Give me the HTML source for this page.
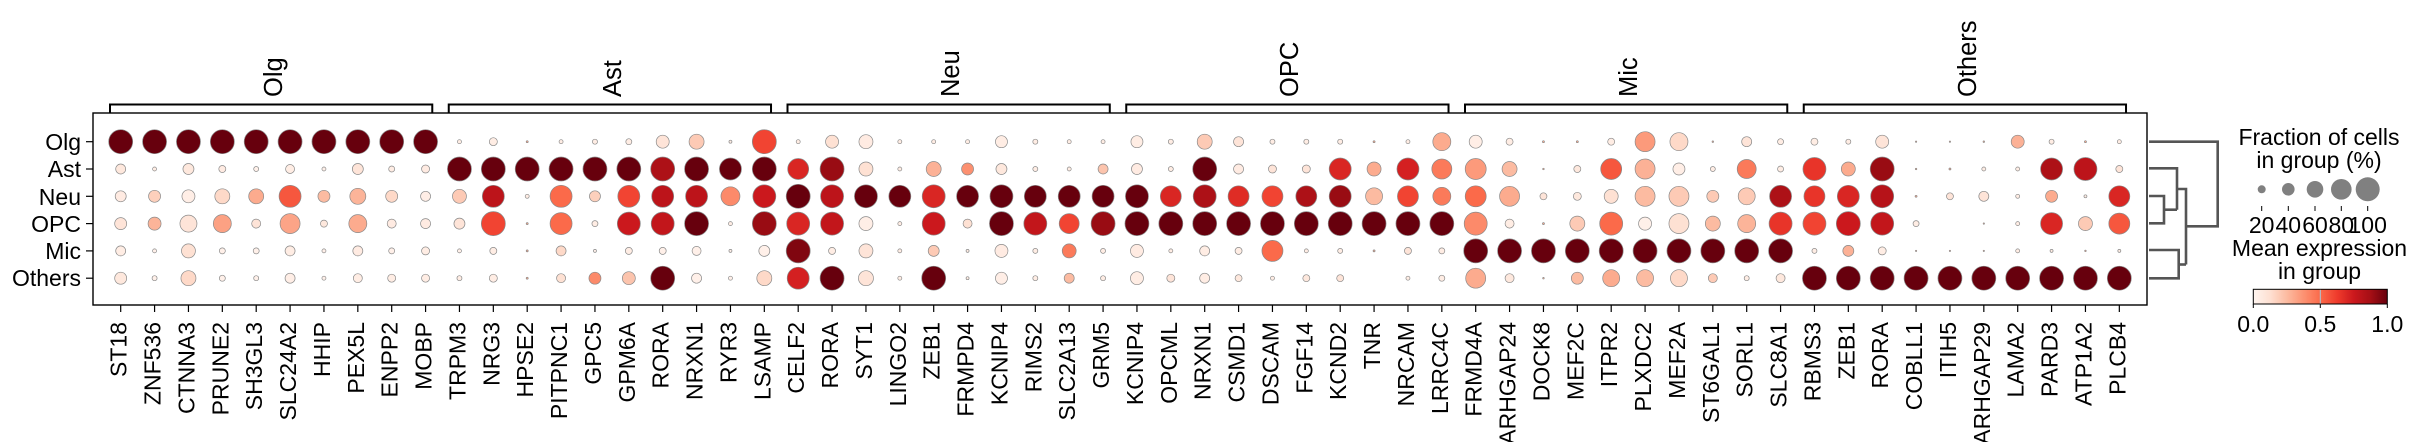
<!DOCTYPE html>
<html><head><meta charset="utf-8">
<style>
html,body{margin:0;padding:0;background:#fff;}
svg{display:block;}
text{font-family:"Liberation Sans","DejaVu Sans",sans-serif;font-size:23px;fill:#000;}
.grp text{font-size:25.5px;}
</style></head>
<body>
<svg id="s" width="2419" height="442" viewBox="0 0 2419 442" xmlns="http://www.w3.org/2000/svg">
<defs>
<linearGradient id="reds" x1="0" x2="1" y1="0" y2="0">
<stop offset="0" stop-color="#fff5f0"/><stop offset="0.125" stop-color="#fee0d2"/><stop offset="0.25" stop-color="#fcbba1"/><stop offset="0.375" stop-color="#fc9272"/><stop offset="0.5" stop-color="#fb6a4a"/><stop offset="0.625" stop-color="#ef3b2c"/><stop offset="0.75" stop-color="#cb181d"/><stop offset="0.875" stop-color="#a50f15"/><stop offset="1" stop-color="#67000d"/>
</linearGradient>
</defs>
<rect x="93" y="113" width="2054" height="192" fill="none" stroke="#000" stroke-width="1.4"/>
<g id="dots"></g>
<g id="ticks" stroke="#000" stroke-width="1.2"></g>
<g text-anchor="end">
<text x="81" y="150">Olg</text>
<text x="81" y="177">Ast</text>
<text x="81" y="205">Neu</text>
<text x="81" y="232">OPC</text>
<text x="81" y="259">Mic</text>
<text x="81" y="286">Others</text>
</g>
<g class="grp">
<text transform="translate(282,97) rotate(-90)">Olg</text>
<text transform="translate(621,97) rotate(-90)">Ast</text>
<text transform="translate(959,97) rotate(-90)">Neu</text>
<text transform="translate(1298,97) rotate(-90)">OPC</text>
<text transform="translate(1637,97) rotate(-90)">Mic</text>
<text transform="translate(1976,97) rotate(-90)">Others</text>
</g>
<g id="brackets" fill="none" stroke="#000" stroke-width="2"></g>
<g id="genes" text-anchor="end">
<text transform="translate(126.7,322) rotate(-90)">ST18</text>
<text transform="translate(160.6,322) rotate(-90)">ZNF536</text>
<text transform="translate(194.5,322) rotate(-90)">CTNNA3</text>
<text transform="translate(228.3,322) rotate(-90)">PRUNE2</text>
<text transform="translate(262.2,322) rotate(-90)">SH3GL3</text>
<text transform="translate(296.1,322) rotate(-90)">SLC24A2</text>
<text transform="translate(330.0,322) rotate(-90)">HHIP</text>
<text transform="translate(363.8,322) rotate(-90)">PEX5L</text>
<text transform="translate(397.7,322) rotate(-90)">ENPP2</text>
<text transform="translate(431.6,322) rotate(-90)">MOBP</text>
<text transform="translate(465.5,322) rotate(-90)">TRPM3</text>
<text transform="translate(499.3,322) rotate(-90)">NRG3</text>
<text transform="translate(533.2,322) rotate(-90)">HPSE2</text>
<text transform="translate(567.1,322) rotate(-90)">PITPNC1</text>
<text transform="translate(601.0,322) rotate(-90)">GPC5</text>
<text transform="translate(634.8,322) rotate(-90)">GPM6A</text>
<text transform="translate(668.7,322) rotate(-90)">RORA</text>
<text transform="translate(702.6,322) rotate(-90)">NRXN1</text>
<text transform="translate(736.5,322) rotate(-90)">RYR3</text>
<text transform="translate(770.3,322) rotate(-90)">LSAMP</text>
<text transform="translate(804.2,322) rotate(-90)">CELF2</text>
<text transform="translate(838.1,322) rotate(-90)">RORA</text>
<text transform="translate(872.0,322) rotate(-90)">SYT1</text>
<text transform="translate(905.8,322) rotate(-90)">LINGO2</text>
<text transform="translate(939.7,322) rotate(-90)">ZEB1</text>
<text transform="translate(973.6,322) rotate(-90)">FRMPD4</text>
<text transform="translate(1007.5,322) rotate(-90)">KCNIP4</text>
<text transform="translate(1041.3,322) rotate(-90)">RIMS2</text>
<text transform="translate(1075.2,322) rotate(-90)">SLC2A13</text>
<text transform="translate(1109.1,322) rotate(-90)">GRM5</text>
<text transform="translate(1143.0,322) rotate(-90)">KCNIP4</text>
<text transform="translate(1176.8,322) rotate(-90)">OPCML</text>
<text transform="translate(1210.7,322) rotate(-90)">NRXN1</text>
<text transform="translate(1244.6,322) rotate(-90)">CSMD1</text>
<text transform="translate(1278.5,322) rotate(-90)">DSCAM</text>
<text transform="translate(1312.3,322) rotate(-90)">FGF14</text>
<text transform="translate(1346.2,322) rotate(-90)">KCND2</text>
<text transform="translate(1380.1,322) rotate(-90)">TNR</text>
<text transform="translate(1414.0,322) rotate(-90)">NRCAM</text>
<text transform="translate(1447.8,322) rotate(-90)">LRRC4C</text>
<text transform="translate(1481.7,322) rotate(-90)">FRMD4A</text>
<text transform="translate(1515.6,322) rotate(-90)">ARHGAP24</text>
<text transform="translate(1549.5,322) rotate(-90)">DOCK8</text>
<text transform="translate(1583.3,322) rotate(-90)">MEF2C</text>
<text transform="translate(1617.2,322) rotate(-90)">ITPR2</text>
<text transform="translate(1651.1,322) rotate(-90)">PLXDC2</text>
<text transform="translate(1685.0,322) rotate(-90)">MEF2A</text>
<text transform="translate(1718.8,322) rotate(-90)">ST6GAL1</text>
<text transform="translate(1752.7,322) rotate(-90)">SORL1</text>
<text transform="translate(1786.6,322) rotate(-90)">SLC8A1</text>
<text transform="translate(1820.5,322) rotate(-90)">RBMS3</text>
<text transform="translate(1854.3,322) rotate(-90)">ZEB1</text>
<text transform="translate(1888.2,322) rotate(-90)">RORA</text>
<text transform="translate(1922.1,322) rotate(-90)">COBLL1</text>
<text transform="translate(1956.0,322) rotate(-90)">ITIH5</text>
<text transform="translate(1989.8,322) rotate(-90)">ARHGAP29</text>
<text transform="translate(2023.7,322) rotate(-90)">LAMA2</text>
<text transform="translate(2057.6,322) rotate(-90)">PARD3</text>
<text transform="translate(2091.5,322) rotate(-90)">ATP1A2</text>
<text transform="translate(2125.3,322) rotate(-90)">PLCB4</text>
</g>
<g fill="none" stroke="#555" stroke-width="2.6">
<path d="M2149 141.7H2217.7V226.3H2186"/>
<path d="M2149 168.3H2177V209.7"/>
<path d="M2149 196H2164V223.3H2149"/>
<path d="M2164 209.7H2177"/>
<path d="M2177 189H2186V264.5"/>
<path d="M2149 250H2178.7V278.3H2149"/>
<path d="M2178.7 264.5H2186"/>
</g>
<g text-anchor="middle">
<text x="2319" y="145">Fraction of cells</text>
<text x="2319" y="168">in group (%)</text>
<g fill="#808080">
<circle cx="2261.7" cy="189.3" r="4"/>
<circle cx="2288.3" cy="189.3" r="6.3"/>
<circle cx="2315" cy="189.3" r="8.3"/>
<circle cx="2341.3" cy="189.3" r="10.3"/>
<circle cx="2367.7" cy="189.3" r="12"/>
</g>
<g stroke="#000" stroke-width="1">
<path d="M2261.7 206V211M2288.3 206V211M2315 206V211M2341.3 206V211M2367.7 206V211"/>
</g>
<text x="2261.7" y="233">20</text>
<text x="2288.3" y="233">40</text>
<text x="2315" y="233">60</text>
<text x="2341.3" y="233">80</text>
<text x="2367.7" y="233">100</text>
<text x="2319.5" y="256">Mean expression</text>
<text x="2319.5" y="279">in group</text>
<rect x="2253.3" y="289.3" width="134" height="14.7" fill="url(#reds)" stroke="#000" stroke-width="1"/>
<line x1="2320.3" y1="289.8" x2="2320.3" y2="303.6" stroke="#a8c8d8" stroke-width="1"/>
<path d="M2253.3 304V308M2320.3 304V308M2387.3 304V308" stroke="#000" stroke-width="1"/>
<text x="2253.3" y="332">0.0</text>
<text x="2320.3" y="332">0.5</text>
<text x="2387.3" y="332">1.0</text>
</g>
</svg>
<script>
(function(){
var R=[
[12,5,5.5,6,5,6],[12,2,6,6.5,2,2.5],[12,5.5,6.5,8.5,7,7.5],[12,3.5,7.5,9,3,3],[12,2.5,7.5,4.5,3,2.5],[12,4.5,11,10,5,5],[12,2,6,3.5,2,2],[12,5.5,8,9,5,4.5],[12,3,6,4.5,3,4],[12,4,5,5,4,4],
[2,12,7,5.5,2,2.5],[4,12,11,12,3.5,4],[1,12,2,1,1,1],[2,12,11,11,5,4.5],[2.5,12,5.5,3,1.5,6],[3,12,11,11.5,3.5,6.5],[6.5,12,11,11.5,3.5,12],[7.5,12,11,12,4.5,5],[1.5,11,9.5,2,1.5,2],[12,12,11.5,12,5.5,7.5],
[2,10.5,12,11.5,12,11],[6.5,12,11.5,11.5,3.5,12],[7,7,11.5,7,7,7.5],[2,2,11,2,2,2],[2,7.5,11.5,11.5,5.5,12],[2,6,11,4.5,1.5,1.5],[6,5.5,11.5,12,6.5,6],[2.5,2.5,11,11.5,2.5,2.5],[2,2,11,10,7,5],[2,5,11,12,2.5,2.5],
[6,5.5,11.5,12,6.5,6.5],[2.5,2.5,10.5,12,2,4],[7.5,12,11.5,12,5,5],[5,5,10.5,12,3.5,3.5],[2.5,4,10.5,12,10.5,2],[2.5,4,10.5,12,2,3.5],[2.5,11,11,12,2.5,3.5],[1,7,8.5,12,1,0],[2,11,10.5,12,3.5,2],[9,10,9,12,3,3],
[6.5,10.5,10.5,11.5,12,10],[3.5,7.5,10,4.5,12,4.5],[1,0.8,3.5,1,12,0.8],[1,3.5,4,7.5,12,6],[3.5,10.5,7,11.5,12,8.5],[10,10,10,6.5,12,8.5],[9,6,10,10,12,8.5],[0.8,2.5,6,7.5,12,4.5],[5,9.5,8.5,9,12,2.5],[3,3,11,11.5,12,4.5],
[3.5,11.5,10.5,11.5,2.5,12],[2.5,7,11,12,5.5,12],[6.5,12,11.5,11.5,4,12],[0.7,0.8,1,3,0.7,12],[0.7,1,3.5,0,0.7,12],[0.8,2,5,0.7,0.7,12],[6.5,2,2,2,2,12],[2.5,11,6,11,1.5,12],[1,11.5,1.5,7,0.8,12],[2,3.5,10.5,10.5,1.5,12]
];
var V=[
[1,.08,.06,.1,.05,.08],[1,.05,.18,.27,.03,.03],[1,.08,.04,.1,.12,.15],[1,.06,.15,.33,.03,.03],[1,.03,.3,.1,.03,.03],[1,.05,.55,.32,.05,.04],[1,.03,.25,.08,.03,.03],[1,.1,.27,.3,.06,.05],[1,.05,.15,.06,.03,.05],[1,.06,.04,.06,.05,.05],
[.05,1,.2,.1,.03,.05],[.05,1,.8,.6,.05,.05],[.3,1,.05,.3,.3,.3],[.05,1,.5,.5,.15,.12],[.05,1,.18,.05,.03,.4],[.05,1,.6,.75,.05,.22],[.1,.85,.8,.78,.03,1],[.2,1,.8,1,.03,.03],[.05,1,.4,.05,.03,.03],[.6,1,.75,.9,.03,.15],
[.05,.7,1,.7,.95,.72],[.12,.9,.8,.78,.05,1],[.06,.12,1,.04,.1,.1],[.05,.05,1,.05,.05,.05],[.05,.28,.7,.75,.2,1],[.05,.38,1,.12,.05,.05],[.05,.08,1,1,.06,.04],[.05,.05,1,.78,.05,.05],[.05,.05,1,.6,.45,.25],[.05,.22,1,.9,.05,.05],
[.05,.06,1,1,.06,.05],[.05,.05,.7,1,.05,.1],[.2,1,.85,1,.05,.05],[.1,.06,.68,1,.05,.08],[.05,.1,.6,1,.5,.05],[.05,.1,.85,1,.05,.08],[.05,.7,.9,1,.05,.1],[.3,.3,.25,1,.3,0],[.05,.72,.6,1,.1,.05],[.3,.45,.45,1,.05,.05],
[.04,.35,.5,.4,1,.3],[.05,.25,.3,.05,1,.08],[.3,.3,.1,.3,1,.3],[.3,.08,.08,.2,1,.25],[.05,.55,.12,.5,1,.3],[.35,.28,.25,.03,1,.25],[.15,.04,.2,.12,1,.15],[.3,.05,.2,.25,1,.2],[.1,.45,.2,.27,1,.05],[.05,.05,.85,.65,1,.08],
[.05,.65,.65,.6,.05,1],[.05,.3,.7,.75,.28,1],[.1,.9,.82,.78,.05,1],[.3,.3,.3,.05,.3,1],[.3,.3,.1,0,.3,1],[.3,.05,.1,.3,.3,1],[.28,.05,.05,.05,.05,1],[.05,.85,.3,.7,.05,1],[.3,.8,.05,.2,.3,1],[.05,.1,.7,.55,.05,1]
];
var stops=[[255,245,240],[254,224,210],[252,187,161],[252,146,114],[251,106,74],[239,59,44],[203,24,29],[165,15,21],[103,0,13]];
function col(v){v=Math.max(0,Math.min(1,v));var p=v*8,i=Math.min(7,Math.floor(p)),f=p-i;var a=stops[i],b=stops[i+1];
return 'rgb('+Math.round(a[0]+(b[0]-a[0])*f)+','+Math.round(a[1]+(b[1]-a[1])*f)+','+Math.round(a[2]+(b[2]-a[2])*f)+')';}
var NS='http://www.w3.org/2000/svg';
var g=document.getElementById('dots'),t=document.getElementById('ticks'),br=document.getElementById('brackets');
var rows=[141.7,169,196.3,223.6,250.9,278.2];
function cx(i){return 120.7+33.875*i;}
for(var i=0;i<60;i++){
 for(var r=0;r<6;r++){
  var rad=R[i][r]; if(rad<=0) continue;
  var c=document.createElementNS(NS,'circle');
  c.setAttribute('cx',cx(i));c.setAttribute('cy',rows[r]);c.setAttribute('r',rad);
  c.setAttribute('fill',col(V[i][r]));c.setAttribute('stroke','#8a8a8a');c.setAttribute('stroke-width','0.7');
  g.appendChild(c);
 }
 var l=document.createElementNS(NS,'line');
 l.setAttribute('x1',cx(i));l.setAttribute('x2',cx(i));l.setAttribute('y1',305);l.setAttribute('y2',312);
 t.appendChild(l);
}
for(var r=0;r<6;r++){
 var l=document.createElementNS(NS,'line');
 l.setAttribute('x1',86);l.setAttribute('x2',93);l.setAttribute('y1',rows[r]);l.setAttribute('y2',rows[r]);
 t.appendChild(l);
}
for(var k=0;k<6;k++){
 var a=cx(10*k)-10.7,b=cx(10*k+9)+6.7;
 var p=document.createElementNS(NS,'path');
 p.setAttribute('d','M'+a+' 113V104.5H'+b+'V113');
 br.appendChild(p);
}
})();
</script>
</body></html>
